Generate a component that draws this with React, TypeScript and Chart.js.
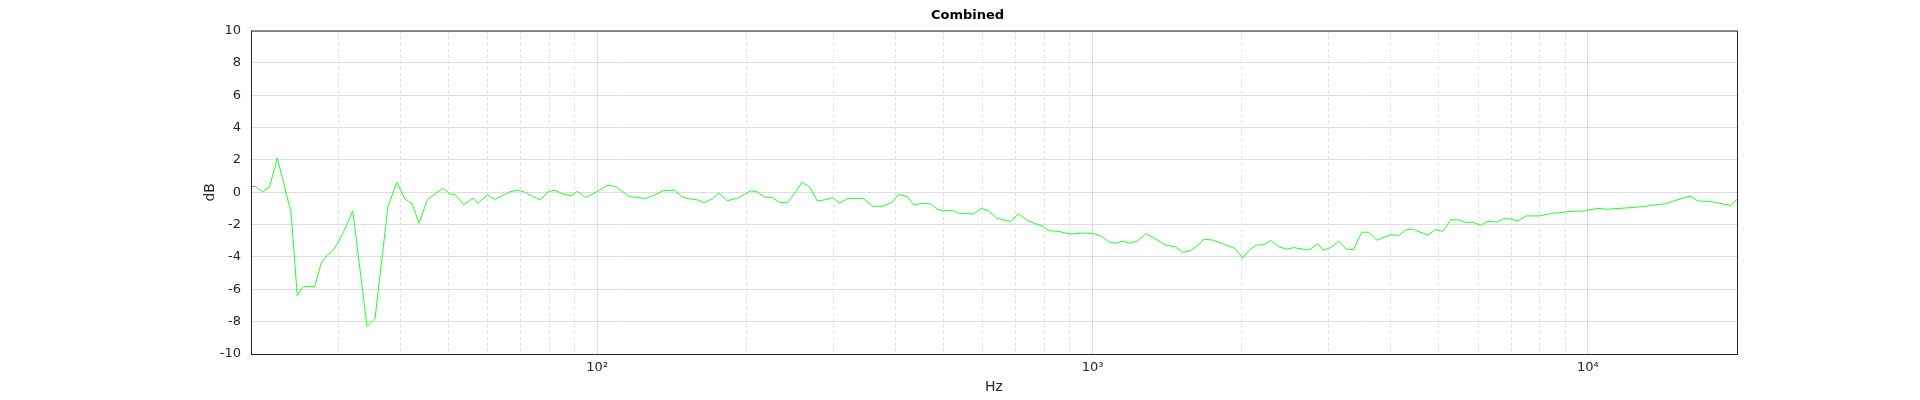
import { useEffect, useRef } from "react"
import { Chart, registerables } from "chart.js"

Chart.register(...registerables)

// frequency (Hz) and level (dB)
const freqs = [
  20, 20.4, 21.1, 21.8, 22.6, 24.1, 24.8, 25.5, 26.9, 27.7, 28.5, 29.3, 29.9, 30.7, 32.1, 34.3, 35.6,
  37.8, 39.4, 40.9, 42.3, 43.7, 45.4, 47.1, 48.9, 50.5, 51.6, 53.8, 56.1, 57.5, 60, 62.2, 66.7, 69.2,
  71.6, 74, 76.7, 79.6, 82.2, 84.9, 88.6, 91.2, 94.6, 100, 105, 109, 116, 125, 130, 136, 143, 149,
  154, 159, 164, 171, 176, 183, 192, 204, 210, 218, 226, 233, 242, 250, 259, 269, 278, 289, 299, 308,
  321, 329, 344, 360, 378, 393, 406, 423, 435, 454, 471, 486, 500, 521, 536, 575, 597, 617, 640, 683,
  708, 739, 796, 815, 850, 903, 959, 1000, 1038, 1077, 1112, 1155, 1188, 1233, 1280, 1322, 1404, 1471,
  1520, 1577, 1637, 1675, 1746, 1937, 2009, 2075, 2144, 2224, 2291, 2377, 2467, 2548, 2731, 2851,
  2917, 3027, 3141, 3245, 3366, 3493, 3612, 3748, 4000, 4150, 4287, 4428, 4751, 4931, 5093, 5285,
  5483, 5672, 5858, 6078, 6281, 6546, 6762, 6985, 7222, 7494, 7962, 8493, 9331, 9862, 10473, 10918,
  12439, 12976, 13904, 14312, 14918, 16069, 16672, 17706, 18306, 19445, 20000,
]
const levels = [
  0.36, 0.36, 0.03, 0.32, 2.12, -1.29, -6.39, -5.83, -5.83, -4.4, -3.9, -3.6, -3.15, -2.5, -1.15, -8.3,
  -7.8, -0.88, 0.61, -0.42, -0.71, -1.91, -0.46, -0.09, 0.26, -0.12, -0.12, -0.77, -0.36, -0.67, -0.17,
  -0.43, 0.03, 0.13, 0, -0.26, -0.46, 0.03, 0.13, -0.09, -0.22, 0.07, -0.32, 0.05, 0.44, 0.36, -0.26,
  -0.38, -0.2, 0.11, 0.13, -0.3, -0.42, -0.46, -0.65, -0.4, -0.05, -0.52, -0.36, 0.09, 0.03, -0.3,
  -0.32, -0.61, -0.65, -0.09, 0.63, 0.3, -0.53, -0.46, -0.32, -0.67, -0.38, -0.38, -0.37, -0.87,
  -0.85, -0.64, -0.12, -0.27, -0.78, -0.68, -0.72, -1.05, -1.15, -1.11, -1.3, -1.34, -0.99, -1.15,
  -1.6, -1.81, -1.34, -1.75, -2.12, -2.37, -2.41, -2.58, -2.52, -2.54, -2.68, -3.07, -3.15, -3.01,
  -3.15, -3.01, -2.56, -2.78, -3.26, -3.38, -3.71, -3.61, -3.24, -2.91, -2.95, -3.46, -4.07, -3.56,
  -3.27, -3.23, -2.98, -3.37, -3.52, -3.42, -3.58, -3.17, -3.58, -3.42, -3.02, -3.5, -3.56, -2.47,
  -2.47, -2.96, -2.61, -2.67, -2.33, -2.28, -2.65, -2.3, -2.43, -1.69, -1.71, -1.87, -1.85, -2.04,
  -1.79, -1.85, -1.63, -1.65, -1.77, -1.46, -1.46, -1.3, -1.17, -1.15, -0.99, -1.05, -0.93, -0.88,
  -0.74, -0.72, -0.53, -0.23, -0.53, -0.58, -0.66, -0.82, -0.43, -0.3,
]
const xGrid = [
  20, 30, 40, 50, 60, 70, 80, 90, 100, 200, 300, 400, 500, 600, 700, 800, 900, 1000, 2000, 3000,
  4000, 5000, 6000, 7000, 8000, 9000, 10000, 20000,
]
const xLabels: Record<number, string> = { 100: "10²", 1000: "10³", 10000: "10⁴" }
const decades = [100, 1000, 10000]

const FONT = "'DejaVu Sans', sans-serif"

const frame = {
  id: "frame",
  afterDraw(chart: Chart) {
    const { ctx, chartArea: a } = chart
    ctx.save()
    ctx.strokeStyle = "#262626"
    ctx.lineWidth = 1
    ctx.strokeRect(a.left + 0.5, a.top + 0.5, a.right - a.left, a.bottom - a.top)
    ctx.restore()
  },
}

export default function App() {
  const canvasRef = useRef<HTMLCanvasElement | null>(null)

  useEffect(() => {
    document.body.style.margin = "0"
    if (!canvasRef.current) return
    const chart = new Chart(canvasRef.current, {
      type: "line",
      data: {
        datasets: [
          {
            data: freqs.map((f, i) => ({ x: f, y: levels[i] })),
            borderColor: "#22ff22",
            borderWidth: 1,
            pointRadius: 0,
            tension: 0,
          },
        ],
      },
      options: {
        animation: false,
        responsive: false,
        layout: { padding: { left: 198, right: 183, top: 0, bottom: 0 } },
        plugins: {
          legend: { display: false },
          tooltip: { enabled: false },
          title: {
            display: true,
            text: "Combined",
            color: "#000",
            font: { family: FONT, size: 13, weight: "bold" },
            padding: { top: 8, bottom: 7 },
          },
        },
        scales: {
          x: {
            type: "logarithmic",
            min: 20,
            max: 20000,
            afterBuildTicks: (s: any) => {
              s.ticks = xGrid.map((v) => ({ value: v }))
            },
            afterFit: (s: any) => {
              s.height = 46
            },
            ticks: {
              autoSkip: false,
              maxRotation: 0,
              color: "#262626",
              font: { family: FONT, size: 13 },
              padding: 6,
              callback: (v: any) => xLabels[v as number] ?? "",
            },
            grid: {
              color: "#dedede",
              drawTicks: false,
            },
            border: {
              display: false,
              dash: (c: any) => (decades.includes(c.tick?.value) ? [] : [3, 3]),
            },
            title: {
              display: true,
              text: "Hz",
              color: "#262626",
              font: { family: FONT, size: 14 },
              padding: { top: 4 },
            },
          },
          y: {
            min: -10,
            max: 10,
            afterFit: (s: any) => {
              s.width = 53
            },
            ticks: {
              stepSize: 2,
              color: "#262626",
              font: { family: FONT, size: 13 },
              padding: 10,
            },
            grid: { color: "#dedede", drawTicks: false },
            border: { display: false },
            title: {
              display: true,
              text: "dB",
              color: "#262626",
              font: { family: FONT, size: 14 },
            },
          },
        },
      },
      plugins: [frame],
    })
    return () => chart.destroy()
  }, [])

  return <canvas ref={canvasRef} width={1920} height={400} style={{ display: "block" }} />
}
